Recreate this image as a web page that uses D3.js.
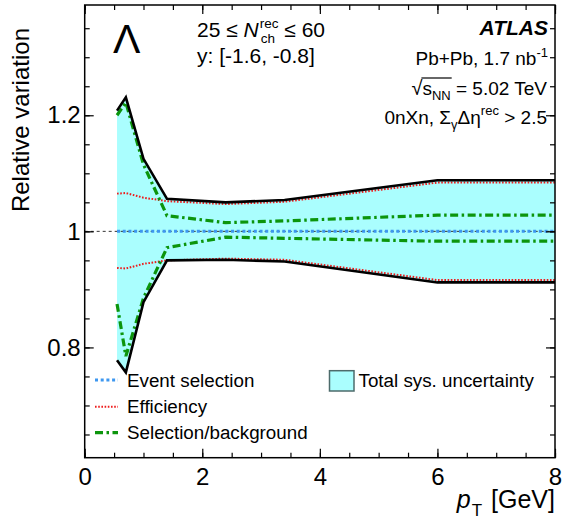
<!DOCTYPE html>
<html><head><meta charset="utf-8">
<script src="https://cdn.jsdelivr.net/npm/d3@7"></script>
<style>body{margin:0;background:#fff} svg{display:block} text{font-family:"Liberation Sans",Arial,sans-serif;white-space:pre}</style>
</head><body><svg id="c" width="562" height="523"></svg>
<script>
// ---- data ----
const pT        = [0.55, 0.70, 1.00, 1.40, 2.40, 3.40, 6.00, 8.00];
const totalUp   = [1.208, 1.231, 1.125, 1.056, 1.050, 1.054, 1.088, 1.088];
const totalLow  = [0.778, 0.757, 0.878, 0.950, 0.951, 0.948, 0.912, 0.912];
const effUp     = [1.065, 1.066, 1.058, 1.052, 1.047, 1.051, 1.084, 1.084];
const effLow    = [0.937, 0.936, 0.944, 0.950, 0.953, 0.951, 0.916, 0.916];
const selUp     = [1.200, 1.222, 1.115, 1.027, 1.015, 1.018, 1.028, 1.028];
const selLow    = [0.875, 0.785, 0.885, 0.972, 0.990, 0.988, 0.983, 0.983];
const evtSel    = [1.000, 1.000, 1.000, 1.000, 1.000, 1.000, 1.000, 1.000];
const xTicks    = [0, 2, 4, 6, 8];
const yTicks    = [0.8, 1.0, 1.2];
const yTickLabels = ["0.8", "1", "1.2"];
const legendLabels = ["Event selection", "Efficiency", "Selection/background", "Total sys. uncertainty"];

const svg = d3.select("#c");
const L = 84.7, R = 555, T = 5, B = 457.7;
const x = d3.scaleLinear().domain([0, 8]).range([L, R]);
const y = d3.scaleLinear().domain([0.61, 1.39]).range([B, T]);

const CYAN = "#aafefe", BLUE = "#3d97f0", RED = "#ee1c1c", GREEN = "#0c950c";

// band
const idx = d3.range(pT.length);
svg.append("path").datum(idx)
  .attr("d", d3.area().x(i => x(pT[i])).y0(i => y(totalLow[i])).y1(i => y(totalUp[i])))
  .attr("fill", CYAN);

// reference line at 1
svg.append("line").attr("x1", x(0)).attr("x2", x(8)).attr("y1", y(1)).attr("y2", y(1))
  .attr("stroke", "#333").attr("stroke-width", 1).attr("stroke-dasharray", "3,3");

function line(arr, color, w, dash) {
  svg.append("path").datum(idx)
    .attr("d", d3.line().x(i => x(pT[i])).y(i => y(arr[i])))
    .attr("fill", "none").attr("stroke", color).attr("stroke-width", w)
    .attr("stroke-dasharray", dash).attr("stroke-linejoin", "miter");
}
line(evtSel, BLUE, 3, "3,2.7");
line(effUp, RED, 2, "1.6,1.6");
line(effLow, RED, 2, "1.6,1.6");
line(selUp, GREEN, 3.2, "8,3.5,2.5,3.5");
line(selLow, GREEN, 3.2, "8,3.5,2.5,3.5");
line(totalUp, "#000", 2.6, null);
line(totalLow, "#000", 2.6, null);

// axes
const xMinor = d3.range(0, 8.01, 0.5);
const yMinor = d3.range(0.65, 1.391, 0.05);
function ax(axis, tr) { return svg.append("g").attr("transform", tr).call(axis); }
ax(d3.axisBottom(x).tickValues(xTicks).tickSize(-9).tickPadding(10).tickFormat(d3.format("d")), `translate(0,${B})`);
ax(d3.axisBottom(x).tickValues(xMinor).tickSize(-5).tickFormat(""), `translate(0,${B})`);
ax(d3.axisTop(x).tickValues(xTicks).tickSize(-9).tickFormat(""), `translate(0,${T})`);
ax(d3.axisTop(x).tickValues(xMinor).tickSize(-5).tickFormat(""), `translate(0,${T})`);
ax(d3.axisLeft(y).tickValues(yTicks).tickSize(-9).tickPadding(4).tickFormat((d, i) => yTickLabels[i]), `translate(${L},0)`);
ax(d3.axisLeft(y).tickValues(yMinor).tickSize(-5).tickFormat(""), `translate(${L},0)`);
ax(d3.axisRight(y).tickValues(yTicks).tickSize(-9).tickFormat(""), `translate(${R},0)`);
ax(d3.axisRight(y).tickValues(yMinor).tickSize(-5).tickFormat(""), `translate(${R},0)`);
svg.selectAll(".domain").remove();
svg.selectAll(".tick line").attr("stroke", "#000").attr("stroke-width", 1.2);
svg.selectAll(".tick text").attr("font-family", "Liberation Sans").attr("font-size", 24).attr("fill", "#000");
svg.append("rect").attr("x", L).attr("y", T).attr("width", R - L).attr("height", B - T)
  .attr("fill", "none").attr("stroke", "#000").attr("stroke-width", 1.5);

// rich text helper
function rich(px, py, parts, anchor) {
  const t = svg.append("text").attr("y", py).attr("fill", "#000");
  let cx = 0, lastStart = 0; const ext = [];
  parts.forEach(p => {
    const s = t.append("tspan").text(p.t).attr("font-size", p.fs).attr("y", py + (p.dy || 0));
    if (p.it) s.attr("font-style", "italic");
    if (p.b) s.attr("font-weight", "bold");
    if (p.ff) s.attr("font-family", p.ff);
    const start = (p.stack ? lastStart : cx) + (p.gap || 0);
    s.attr("x", start);
    const w = s.node().getComputedTextLength();
    ext.push([start, start + w]);
    if (p.stack) cx = Math.max(cx, start + w); else { lastStart = start; cx = start + w; }
  });
  const dx = anchor === "end" ? px - cx : px;
  t.attr("transform", `translate(${dx},0)`);
  return ext.map(e => [e[0] + dx, e[1] + dx]);
}

// axis titles
svg.append("text").attr("transform", "translate(28.5,28) rotate(-90)").attr("text-anchor", "end")
  .attr("font-size", 24).text("Relative variation");
rich(555, 508, [{t: "p", fs: 25, it: true}, {t: "T", fs: 17, dy: 8, gap: 1}, {t: " [GeV]", fs: 25, gap: 2}], "end");

// Lambda
svg.append("text").attr("x", 113).attr("y", 53).attr("font-family", "Liberation Serif").attr("font-size", 41).text("Λ");

// left labels
rich(197, 37, [{t: "25 ≤ ", fs: 21}, {t: "N", fs: 21, it: true}, {t: "rec", fs: 13.5, dy: -9.5, gap: 1},
  {t: "ch", fs: 13.5, dy: 5.5, stack: true, gap: 1}, {t: " ≤ 60", fs: 21}], "start");
rich(197, 63, [{t: "y: [-1.6, -0.8]", fs: 21}], "start");

// right labels
rich(548, 35, [{t: "ATLAS", fs: 21, it: true, b: true}], "end");
rich(548, 65, [{t: "Pb+Pb, 1.7 nb", fs: 19}, {t: "-1", fs: 13, dy: -8}], "end");
const sq = rich(547, 95, [{t: "√", fs: 20}, {t: "s", fs: 19}, {t: "NN", fs: 13, dy: 5}, {t: " = 5.02 TeV", fs: 19}], "end");
svg.append("line").attr("x1", sq[0][1] - 1).attr("x2", sq[2][1] + 1).attr("y1", 95 - 17).attr("y2", 95 - 17)
  .attr("stroke", "#000").attr("stroke-width", 1.2);
rich(547, 124, [{t: "0nXn, Σ", fs: 19}, {t: "γ", fs: 13, dy: 5}, {t: "Δη", fs: 19}, {t: "rec", fs: 13, dy: -9}, {t: " > 2.5", fs: 19}], "end");

// legend
const legY = [380, 406.7, 432.7];
const legStyles = [[BLUE, 3, "3,2.7"], [RED, 2, "1.6,1.6"], [GREEN, 3.2, "8,3.5,2.5,3.5"]];
legY.forEach((ly, i) => {
  svg.append("line").attr("x1", 95).attr("x2", 118).attr("y1", ly).attr("y2", ly)
    .attr("stroke", legStyles[i][0]).attr("stroke-width", legStyles[i][1]).attr("stroke-dasharray", legStyles[i][2]);
  svg.append("text").attr("x", 127).attr("y", ly + 6.5).attr("font-size", 18.8).text(legendLabels[i]);
});
svg.append("rect").attr("x", 329.5).attr("y", 370.7).attr("width", 24.5).attr("height", 20.3)
  .attr("fill", CYAN).attr("stroke", "#4d6b6b").attr("stroke-width", 1.5);
svg.append("text").attr("x", 358.5).attr("y", 387).attr("font-size", 18.8).text(legendLabels[3]);
</script></body></html>
